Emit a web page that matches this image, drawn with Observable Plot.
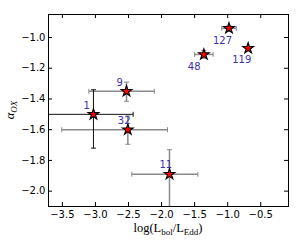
<!DOCTYPE html>
<html><head><meta charset="utf-8">
<script src="https://cdn.jsdelivr.net/npm/d3@7"></script>
<script src="https://cdn.jsdelivr.net/npm/@observablehq/plot@0.6"></script>
<style>body{margin:0;background:#fff;} svg{display:block}</style>
</head><body><div id="chart"></div>
<script>
// ---- data ----
const labels = ["1", "9", "32", "11", "48", "127", "119"];
const logL   = [-3.03, -2.53, -2.51, -1.88, -1.36, -0.98, -0.69];
const aox    = [-1.50, -1.35, -1.60, -1.89, -1.11, -0.94, -1.07];
const xLow   = [-3.90, -3.10, -3.51, -2.45, -1.50, -1.09, null];
const xHigh  = [-2.43, -2.11, -1.91, -1.45, -1.22, -0.87, null];
const yLow   = [-1.72, -1.415, -1.695, -2.20, -1.135, -0.96, null];
const yHigh  = [-1.34, -1.29, -1.51, -1.73, -1.085, -0.92, null];
const labelBelow = ["48", "127", "119"];
const xTicks = [-3.5, -3.0, -2.5, -2.0, -1.5, -1.0, -0.5];
const yTicks = [-2.0, -1.8, -1.6, -1.4, -1.2, -1.0];

const W = 300, H = 240, mL = 48, mR = 12, mT = 14, mB = 34;
const pW = W - mL - mR, pH = H - mT - mB;
const xDomain = [-3.71, -0.08], yDomain = [-2.1, -0.85];

const data = labels.map((label, i) => ({
  label, x: logL[i], y: aox[i], xlo: xLow[i], xhi: xHigh[i], ylo: yLow[i], yhi: yHigh[i]
}));
const withErr = data.filter(d => d.xlo != null);
const errColor = d => d.label === "1" ? "#111" : "#8a8a8a";
const errWidth = d => d.label === "1" ? 1 : 1.5;

const vbar = {draw(ctx, size) { const r = Math.sqrt(size / Math.PI); ctx.moveTo(0, -r); ctx.lineTo(0, r); }};
const hbar = {draw(ctx, size) { const r = Math.sqrt(size / Math.PI); ctx.moveTo(-r, 0); ctx.lineTo(r, 0); }};
const labColor = "#3c2fb0";

const fmt = d3.format(".1f");
const svg = Plot.plot({
  width: W, height: H,
  marginLeft: mL, marginRight: mR, marginTop: mT, marginBottom: mB,
  style: {fontFamily: "DejaVu Sans", fontSize: "10px", color: "black", background: "white"},
  x: {domain: xDomain, label: null},
  y: {domain: yDomain, label: null},
  marks: [
    Plot.link(withErr, {x1: "xlo", x2: "xhi", y1: "y", y2: "y", stroke: errColor, strokeWidth: errWidth, clip: true}),
    Plot.link(withErr, {x1: "x", x2: "x", y1: "ylo", y2: "yhi", stroke: errColor, strokeWidth: errWidth, clip: true}),
    Plot.dot(withErr, {x: "xlo", y: "y", symbol: vbar, r: 2.5, stroke: errColor, fill: "none", strokeWidth: 1, clip: true}),
    Plot.dot(withErr, {x: "xhi", y: "y", symbol: vbar, r: 2.5, stroke: errColor, fill: "none", strokeWidth: 1, clip: true}),
    Plot.dot(withErr, {x: "x", y: "ylo", symbol: hbar, r: 2.5, stroke: errColor, fill: "none", strokeWidth: 1, clip: true}),
    Plot.dot(withErr, {x: "x", y: "yhi", symbol: hbar, r: 2.5, stroke: errColor, fill: "none", strokeWidth: 1, clip: true}),
    Plot.dot(data, {x: "x", y: "y", symbol: "star", r: 3.4, fill: "red", stroke: "black", strokeWidth: 1.1}),
    Plot.text(data.filter(d => !labelBelow.includes(d.label)), {x: "x", y: "y", text: "label", textAnchor: "start", dx: -10, dy: -9, fill: labColor, fontSize: 10}),
    Plot.text(data.filter(d => labelBelow.includes(d.label)), {x: "x", y: "y", text: "label", textAnchor: "start", dx: -16, dy: 12, fill: labColor, fontSize: 10}),
    Plot.ruleX(xTicks, {x: d => d, insetTop: pH - 4, stroke: "black"}),
    Plot.ruleX(xTicks, {x: d => d, insetBottom: pH - 4, stroke: "black"}),
    Plot.ruleY(yTicks, {y: d => d, insetRight: pW - 4, stroke: "black"}),
    Plot.ruleY(yTicks, {y: d => d, insetLeft: pW - 4, stroke: "black"}),
    Plot.frame({stroke: "black"}),
    Plot.axisX(xTicks, {tickSize: 0, tickPadding: 4, tickFormat: fmt, label: null}),
    Plot.axisY(yTicks, {tickSize: 0, tickPadding: 3, tickFormat: fmt, label: null})
  ]
});
document.getElementById("chart").appendChild(svg);

const s = d3.select(svg);
const xl = s.append("text")
  .attr("x", mL + pW / 2).attr("y", 232)
  .attr("text-anchor", "middle")
  .attr("font-family", "'Liberation Serif', serif").attr("font-size", 12.5).attr("fill", "black");
xl.append("tspan").text("log(L");
xl.append("tspan").attr("dy", 3).attr("font-size", 9).text("bol");
xl.append("tspan").attr("dy", -3).text("/L");
xl.append("tspan").attr("dy", 3).attr("font-size", 9).text("Edd");
xl.append("tspan").attr("dy", -3).text(")");

const yl = s.append("text")
  .attr("transform", `translate(14,${mT + pH / 2}) rotate(-90)`)
  .attr("text-anchor", "middle")
  .attr("font-family", "'Liberation Serif', serif").attr("font-style", "italic")
  .attr("font-size", 12.5).attr("fill", "black");
yl.append("tspan").text("α");
yl.append("tspan").attr("dy", 2.5).attr("font-size", 9).text("OX");
</script>
</body></html>
